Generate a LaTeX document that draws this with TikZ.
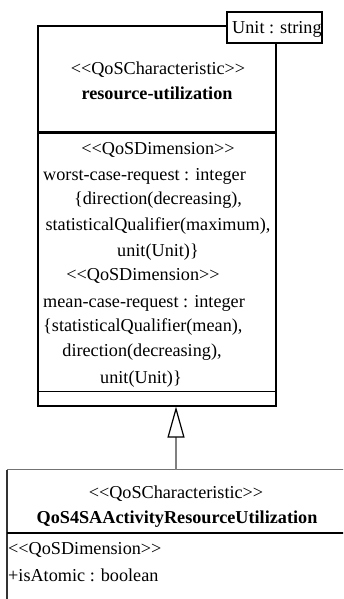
\documentclass[tikz,border=0pt]{standalone}
\usepackage{fontspec}
\setmainfont{Liberation Serif}
\usetikzlibrary{arrows.meta,positioning}
\newcommand\stereo[1]{<{}<#1>{}>}

\begin{document}
\begin{tikzpicture}[x=1pt, y=-1pt,
        umltext/.style={inner sep=0pt, text height=12.5pt, text depth=4pt, font=\fontsize{18.2}{22}\selectfont},
        classbox/.style={draw, line width=1.2pt, inner sep=0pt},
        tagbox/.style={draw, line width=1.2pt, fill=white, inner sep=0pt, minimum width=95pt, minimum height=31pt},
        gen/.style={-{Triangle[length=31pt, width=17pt, fill=white, color=black]}, line width=1.2pt, draw=black!50}
    ]
        \useasboundingbox (0,0) rectangle (343,599);
        \clip (0,0) rectangle (343,599);

        % upper class
        \node[classbox, minimum width=238pt, minimum height=380pt] (resutil) at (157,216) {};
        \draw[line width=2.6pt] ([yshift=-107pt]resutil.north west) -- ([yshift=-107pt]resutil.north east);
        \draw[line width=1.2pt] ([yshift=15pt]resutil.south west) -- ([yshift=15pt]resutil.south east);
        \node[tagbox] (unittag) at (274.5,27.5) {};
        \node[umltext, anchor=west] (unittext) at (232,29) {Unit : string};

        \node[umltext] (rustereo) at (158,70) {\stereo{QoSCharacteristic}};
        \node[umltext, font=\fontsize{18.2}{22}\selectfont\bfseries] (runame) at (157,95) {resource-utilization};

        \node[umltext] (dimA) at (158,150) {\stereo{QoSDimension}};
        \node[umltext, anchor=west] (worst) at (43,176) {worst-case-request : integer};
        \node[umltext] (worstA) at (158,200) {\{direction(decreasing),};
        \node[umltext] (worstB) at (158,226) {statisticalQualifier(maximum),};
        \node[umltext] (worstC) at (158,252) {unit(Unit)\}};
        \node[umltext] (dimB) at (143,276) {\stereo{QoSDimension}};
        \node[umltext, anchor=west] (mean) at (43,303) {mean-case-request : integer};
        \node[umltext, anchor=west] (meanA) at (43,327) {\{statisticalQualifier(mean),};
        \node[umltext] (meanB) at (142,352) {direction(decreasing),};
        \node[umltext] (meanC) at (141,379) {unit(Unit)\}};

        % lower class
        \node[inner sep=0pt, minimum width=340pt, minimum height=160pt] (activity) at (177,550) {};
        \draw[line width=1.2pt, black!55] (activity.north west) -- (activity.north east);
        \draw[line width=1.4pt, black!80] (activity.north west) -- (activity.south west);
        \draw[line width=1.5pt] ([yshift=-63pt]activity.north west) -- ([yshift=-63pt]activity.north east);

        \node[umltext] (acstereo) at (176,494) {\stereo{QoSCharacteristic}};
        \node[umltext, font=\fontsize{18.2}{22}\selectfont\bfseries] (acname) at (177,519) {QoS4SAActivityResourceUtilization};
        \node[umltext, anchor=west] (dimC) at (8,550) {\stereo{QoSDimension}};
        \node[umltext, anchor=west] (atomic) at (8,577) {+isAtomic : boolean};

        \draw[gen] (activity.north -| 176,0) -- (176,406.6);
\end{tikzpicture}
\end{document}
